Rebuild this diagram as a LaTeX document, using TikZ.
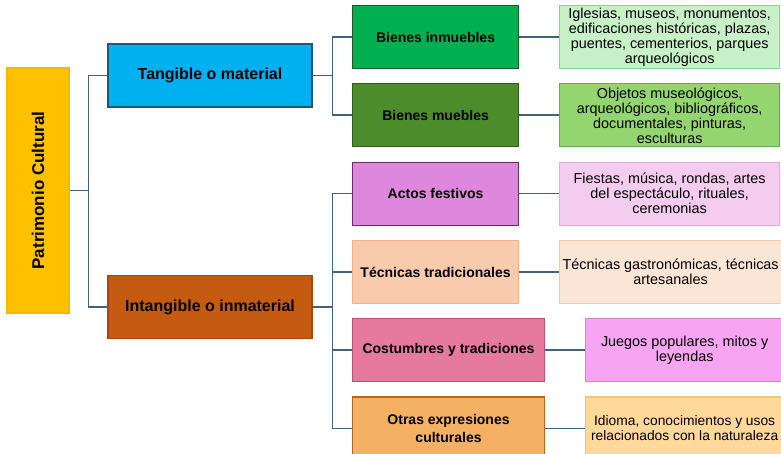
\documentclass[tikz,border=0pt]{standalone}
\usepackage{fontspec}
\setmainfont{Liberation Sans}
\usepackage{graphicx}
\usepackage{xcolor}
\usetikzlibrary{positioning}

\definecolor{c_root}{HTML}{FFC000}
\definecolor{c_rootline}{HTML}{F5B700}
\definecolor{c_tang}{HTML}{00B0F0}
\definecolor{c_tangline}{HTML}{24557E}
\definecolor{c_intang}{HTML}{C55A11}
\definecolor{c_intangline}{HTML}{A9480C}
\definecolor{c_inm}{HTML}{00B050}
\definecolor{c_inmline}{HTML}{1E5631}
\definecolor{c_mue}{HTML}{4C8C2B}
\definecolor{c_mueline}{HTML}{2F5B1C}
\definecolor{c_act}{HTML}{DD88DD}
\definecolor{c_actline}{HTML}{6B2A6B}
\definecolor{c_tec}{HTML}{F8CBAD}
\definecolor{c_tecline}{HTML}{F4B183}
\definecolor{c_cos}{HTML}{E57A9E}
\definecolor{c_cosline}{HTML}{C0506F}
\definecolor{c_otr}{HTML}{F4B063}
\definecolor{c_otrline}{HTML}{B5651D}
\definecolor{d_inm}{HTML}{C8F1C8}
\definecolor{d_inmline}{HTML}{8FD28F}
\definecolor{d_mue}{HTML}{93D56F}
\definecolor{d_mueline}{HTML}{5FAF4A}
\definecolor{d_act}{HTML}{F3CCF0}
\definecolor{d_actline}{HTML}{E4A9E0}
\definecolor{d_tec}{HTML}{FBE5D6}
\definecolor{d_tecline}{HTML}{F4C8A8}
\definecolor{d_cos}{HTML}{F7A4F2}
\definecolor{d_cosline}{HTML}{D884D4}
\definecolor{d_otr}{HTML}{FFD89B}
\definecolor{d_otrline}{HTML}{F2C27A}
\definecolor{c_link}{HTML}{41627E}

\begin{document}
\begin{tikzpicture}[x=1pt,y=1pt,
      box_base/.style={
         rectangle,
         line width=1.1pt,
         inner sep=0pt,
         align=center,
         text=black,
         minimum height=63pt},
      box_root/.style={
         box_base,
         fill=c_root,
         draw=c_rootline,
         minimum width=62pt,
         minimum height=245pt,
         font=\bfseries\fontsize{17}{19}\selectfont},
      box_one/.style 2 args={
         box_base,
         fill=#1,
         draw=#2,
         minimum width=204pt,
         font=\bfseries\fontsize{16}{18}\selectfont},
      box_two/.style 2 args={
         box_base,
         fill=#1,
         draw=#2,
         minimum width=166pt,
         font=\bfseries\fontsize{14}{18}\selectfont},
      box_three/.style 2 args={
         box_base,
         fill=#1,
         draw=#2,
         minimum width=220pt,
         font=\fontsize{14.4}{15}\selectfont},
      line_link/.style={
         draw=c_link,
         line width=1.7pt}
]
      \useasboundingbox (0,0) rectangle (781,454);

      %root
      \node[box_root] (pc) at (38,263.5) {\rotatebox{90}{Patrimonio Cultural}};

      \node[box_one={c_tang}{c_tangline}] (tan) at (210,378.5) {Tangible o material};
      \node[box_one={c_intang}{c_intangline}] (int) at (210,147) {Intangible o inmaterial};

      %second level
      \node[box_two={c_inm}{c_inmline},anchor=north west] (inm) at (352,449) {Bienes inmuebles};
      \node[box_two={c_mue}{c_mueline},below right=14.2pt and 0pt of inm.south west] (mue) {Bienes muebles};
      \node[box_two={c_act}{c_actline},below right=14.2pt and 0pt of mue.south west] (act) {Actos festivos};
      \node[box_two={c_tec}{c_tecline},below right=14.2pt and 0pt of act.south west] (tec) {Técnicas tradicionales};
      \node[box_two={c_cos}{c_cosline},minimum width=192pt,below right=14.2pt and 0pt of tec.south west] (cos) {Costumbres y tradiciones};
      \node[box_two={c_otr}{c_otrline},minimum width=192pt,below right=14.2pt and 0pt of cos.south west] (otr) {Otras expresiones\\culturales};

      %third level
      \node[box_three={d_inm}{d_inmline},right=40pt of inm] (inm_d) {Iglesias, museos, monumentos,\\edificaciones históricas, plazas,\\puentes, cementerios, parques\\arqueológicos};
      \node[box_three={d_mue}{d_mueline},right=40pt of mue] (mue_d) {Objetos museológicos,\\arqueológicos, bibliográficos,\\documentales, pinturas,\\esculturas};
      \node[box_three={d_act}{d_actline},right=40pt of act] (act_d) {Fiestas, música, rondas, artes\\del espectáculo, rituales,\\ceremonias};
      \node[box_three={d_tec}{d_tecline},minimum width=222pt,right=40pt of tec] (tec_d) {Técnicas gastronómicas, técnicas\\artesanales};
      \node[box_three={d_cos}{d_cosline},minimum width=198pt,right=40pt of cos] (cos_d) {Juegos populares, mitos y\\leyendas};
      \node[box_three={d_otr}{d_otrline},minimum width=198pt,right=40pt of otr,font=\fontsize{13.8}{15}\selectfont] (otr_d) {Idioma, conocimientos y usos\\relacionados con la naturaleza};

    \foreach \i/\j in {pc/tan, pc/int}% root to first level
    \draw [line_link] (\i.east) -- ++(19,0) |- (\j.west);

    \foreach \i/\j in {tan/inm, tan/mue, int/act, int/tec, int/cos, int/otr}% first to second level
    \draw [line_link] (\i.east) -- ++(20,0) |- (\j.west);

    \foreach \i in {inm, mue, act, tec, cos, otr}% second to third level
    \draw [line_link] (\i.east) -- (\i_d.west);

\end{tikzpicture}
\end{document}
